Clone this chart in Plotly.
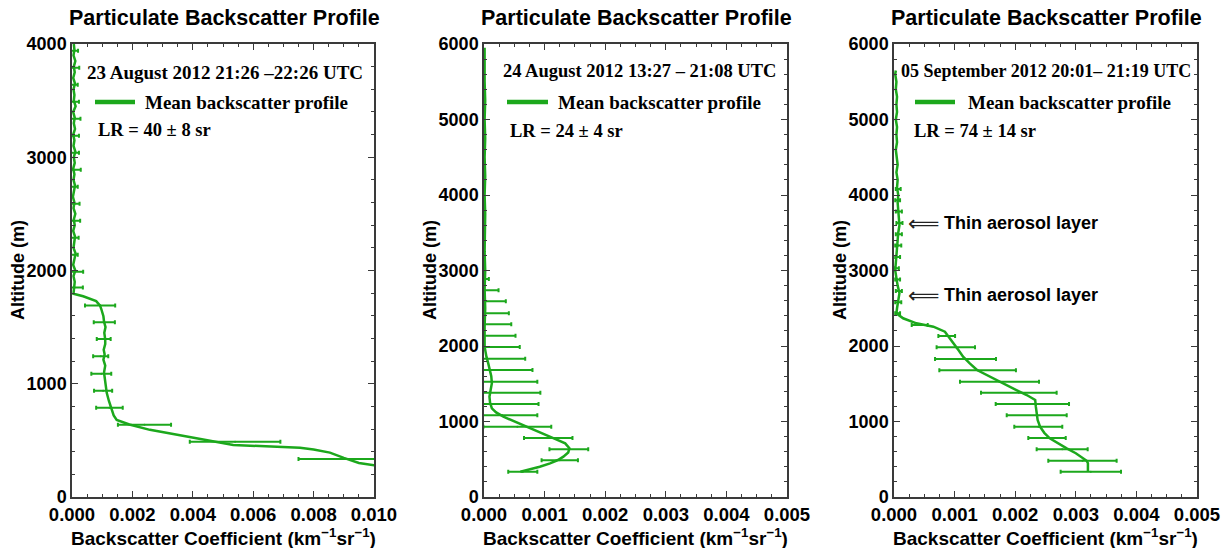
import plotly.graph_objects as go

# ---------------- data ----------------
# Panel 1: 23 August 2012
p1_alt = [270, 300, 345, 392, 420, 434, 460, 490, 522, 560, 593, 640, 681, 720, 770, 850, 920,
          1035, 1100, 1160, 1212, 1260, 1300, 1350, 1389, 1450, 1500, 1550, 1596, 1660, 1690, 1730, 1773, 1795,
          1850, 1900, 1950, 2000, 2050, 2100, 2150, 2200, 2250, 2300, 2350, 2400, 2450, 2500,
          2550, 2600, 2650, 2700, 2750, 2800, 2850, 2900, 2950, 3000, 3050, 3100, 3150, 3200,
          3250, 3300, 3350, 3400, 3450, 3500, 3550, 3600, 3650, 3700, 3750, 3800, 3850, 3900,
          3950, 4000]
p1_val = [0.0103, 0.0095, 0.0090, 0.00854, 0.0080, 0.00755, 0.00534, 0.0047, 0.0040, 0.0032, 0.00258,
          0.0019, 0.00148, 0.00138, 0.00131, 0.00122, 0.00115,
          0.0011, 0.00106, 0.0011, 0.00104, 0.00108, 0.00105, 0.0011, 0.0011, 0.00107, 0.00111, 0.00106,
          0.00104, 0.00097, 0.00093, 0.0008, 0.00037, 0.00005,
          0.00006, 0.00009, 0.00005, 0.00011, 0.00004, 0.00008, 0.00012, 0.00005, 0.00007, 0.00010,
          0.00004, 0.00009, 0.00006, 0.00011, 0.00005, 0.00008, 0.00003, 0.00007, 0.00010, 0.00005,
          0.00008, 0.00004, 0.00009, 0.00006, 0.00011, 0.00005, 0.00008, 0.00004, 0.00010, 0.00006,
          0.00009, 0.00004, 0.00012, 0.00006, 0.00008, 0.00005, 0.00010, 0.00004, 0.00009, 0.00006,
          0.00011, 0.00005, 0.00008, 0.00006]
p1_bar_alt = [336, 487, 637, 788, 938, 1088, 1242, 1395, 1543, 1690, 1850, 1990, 2140, 2290, 2440,
              2590, 2740, 2890, 3040, 3190, 3340, 3490, 3640, 3790, 3940]
p1_bar_val = [0.0090, 0.0054, 0.0024, 0.00124, 0.00103, 0.00097, 0.00095, 0.00105, 0.00107, 0.00093,
              0.00008, 0.00009, 0.00007, 0.00008, 0.00009, 0.00008, 0.00007, 0.00009, 0.00008, 0.00007,
              0.00008, 0.00009, 0.00007, 0.00008, 0.00007]
p1_bar_err = [0.0015, 0.0015, 0.00088, 0.00044, 0.0003, 0.00033, 0.00025, 0.00023, 0.00035, 0.0005,
              0.00028, 0.00028, 0.00012, 0.00014, 0.00018, 0.00017, 0.00012, 0.0002, 0.00015, 0.00016,
              0.0002, 0.00014, 0.00012, 0.00016, 0.00013]

# Panel 2: 24 August 2012
p2_alt = [335, 400, 446, 490, 534, 590, 645, 711, 760, 799, 860, 931, 1000, 1064, 1120, 1175, 1250,
          1329, 1420, 1506, 1600, 1682, 1770, 1859, 1930, 1992, 2250, 2500, 2750, 3000, 3250, 3500,
          3750, 4000, 4250, 4500, 4750, 5000, 5250, 5500, 5750, 5950]
p2_val = [0.0006, 0.00092, 0.00109, 0.00122, 0.00131, 0.00139, 0.00141, 0.00134, 0.0012, 0.00109,
          0.0009, 0.0007, 0.0005, 0.00032, 0.0002, 0.00013, 0.0001, 0.00009, 0.00011, 0.00013, 0.00012,
          0.0001, 0.00007, 0.00004, 0.00002, 0.00001, 0.00001, 0.00002, 0.00001, 0.00002, 0.00001,
          0.00002, 0.00002, 0.00001, 0.00002, 0.00001, 0.00002, 0.00001, 0.00002, 0.00001, 0.00001,
          0.00001]
p2_bar_alt = [335, 486, 632, 781, 931, 1082, 1232, 1381, 1527, 1682, 1832, 1987, 2137, 2287, 2433,
              2592, 2738, 2887]
p2_bar_val = [0.00064, 0.00125, 0.0014, 0.00106, 0.00055, 0.0003, 0.0001, 0.0001, 0.00013, 0.0001,
              0.00005, 0.0, 0.0, 0.0, 0.0, 0.0, 0.0, 0.0]
p2_bar_err = [0.00024, 0.0003, 0.00032, 0.0004, 0.00056, 0.00058, 0.0008, 0.00083, 0.00075, 0.0007,
              0.00063, 0.00059, 0.00052, 0.00045, 0.00041, 0.00036, 0.00024, 0.00008]

# Panel 3: 05 September 2012
p3_alt = [335, 446, 480, 512, 580, 645, 710, 777, 850, 931, 1020, 1108, 1200, 1285, 1351, 1417, 1480,
          1550, 1620, 1682, 1770, 1859, 1950, 2036, 2110, 2190, 2256, 2300, 2367, 2433, 2500, 2600,
          2700, 2800, 2900, 3000, 3100, 3200, 3300, 3400, 3500, 3600, 3700, 3800, 3900, 4000, 4100,
          4200, 4300, 4400, 4500, 4600, 4700, 4800, 4900, 5000, 5100, 5200, 5300, 5400, 5500, 5600,
          5650]
p3_val = [0.0032, 0.0032, 0.00318, 0.00312, 0.003, 0.00285, 0.00272, 0.00257, 0.00248, 0.00241,
          0.00237, 0.00235, 0.00234, 0.00233, 0.00219, 0.00202, 0.00186, 0.00169, 0.00152, 0.00137,
          0.00125, 0.00114, 0.00106, 0.00098, 0.0009, 0.00084, 0.00065, 0.00037, 0.00015, 0.00004,
          0.00005, 0.00007, 0.00009, 0.00006, 0.00004, 0.00002, 0.00003, 0.00004, 0.00004, 0.00006,
          0.00007, 0.00009, 0.00008, 0.00007, 0.00006, 0.00007, 0.00005, 0.00006, 0.00004, 0.00006,
          0.00005, 0.00003, 0.00005, 0.00004, 0.00005, 0.00003, 0.00005, 0.00004, 0.00005, 0.00003,
          0.00004, 0.00002, 0.00003]
p3_bar_alt = [335, 481, 632, 781, 931, 1082, 1232, 1381, 1527, 1678, 1828, 1983, 2132, 2278, 2433,
              2580, 2730, 2880, 3030, 3180, 3330, 3480, 3630, 3780, 3930, 4080]
p3_bar_val = [0.003248, 0.00311, 0.002775, 0.002525, 0.002381, 0.002355, 0.002283, 0.00206, 0.001741,
              0.00138, 0.00118, 0.00102, 0.00087, 0.000424, 0.00006, 0.00007, 0.00008, 0.00006,
              0.00004, 0.00006, 0.00007, 0.00008, 0.00009, 0.00008, 0.00006, 0.00007]
p3_bar_err = [0.000498, 0.000564, 0.000421, 0.000309, 0.000396, 0.000495, 0.000605, 0.000624,
              0.000652, 0.000632, 0.000503, 0.000317, 0.000138, 0.000132, 0.00004, 0.00005, 0.00005,
              0.00004, 0.00004, 0.00004, 0.00005, 0.00005, 0.00005, 0.00005, 0.00004, 0.00004]

titles = ["Particulate Backscatter Profile"] * 3
dates = ["23 August 2012 21:26 \u201322:26 UTC",
         "24 August 2012 13:27 \u2013 21:08 UTC",
         "05 September 2012 20:01\u2013 21:19 UTC"]
lr_texts = ["LR = 40 \u00b1 8 sr", "LR = 24 \u00b1 4 sr", "LR = 74 \u00b1 14 sr"]
legend_text = "Mean backscatter profile"
layer_text = "Thin aerosol layer"
layer_alts = [3629, 2675]
x_ranges = [[0, 0.010], [0, 0.005], [0, 0.005]]
x_dticks = [0.002, 0.001, 0.001]
x_minor = [0.0005, 0.00025, 0.00025]
y_ranges = [[0, 4000], [0, 6000], [0, 6000]]
xlabel = "Backscatter Coefficient (km<sup>\u22121</sup>sr<sup>\u22121</sup>)"
ylabel = "Altitude (m)"

# ---------------- figure ----------------
W, H = 1229, 548
GREEN = "rgb(28,168,28)"
FRAME = "#3a3a3a"


def px(x):
    return x / W


def py(y):
    return 1 - y / H


panels_px = [(72, 374), (484, 787), (894, 1197)]
y_dom = [py(497), py(44)]

fig = go.Figure()
series = [(p1_alt, p1_val, p1_bar_alt, p1_bar_val, p1_bar_err),
          (p2_alt, p2_val, p2_bar_alt, p2_bar_val, p2_bar_err),
          (p3_alt, p3_val, p3_bar_alt, p3_bar_val, p3_bar_err)]

sans_bold = dict(family="Liberation Sans, Arial", weight="bold", color="black")
serif_bold = dict(family="Liberation Serif, Times New Roman", weight="bold", color="black")

annotations = []
shapes = []
for i, (alt, val, balt, bval, berr) in enumerate(series):
    xa = "x" if i == 0 else f"x{i+1}"
    ya = "y" if i == 0 else f"y{i+1}"
    fig.add_trace(go.Scatter(x=val, y=alt, mode="lines", xaxis=xa, yaxis=ya,
                             line=dict(color=GREEN, width=2.5), hoverinfo="skip"))
    fig.add_trace(go.Scatter(x=bval, y=balt, mode="markers", xaxis=xa, yaxis=ya,
                             marker=dict(color=GREEN, size=2),
                             error_x=dict(type="data", array=berr, symmetric=True,
                                          color=GREEN, thickness=2, width=2),
                             hoverinfo="skip"))
    l, r = panels_px[i]
    axis_common = dict(showline=True, linecolor=FRAME, linewidth=1.5, mirror="allticks",
                       ticks="inside", ticklen=6, tickwidth=1, tickcolor=FRAME,
                       showgrid=False, zeroline=False, automargin=False)
    fig.layout[f"xaxis{'' if i == 0 else i+1}"] = dict(
        domain=[px(l), px(r)], range=x_ranges[i], dtick=x_dticks[i], tick0=0,
        tickformat=".3f", anchor=ya, tickfont=dict(size=18.5, **sans_bold),
        minor=dict(dtick=x_minor[i], ticks="inside", ticklen=3, tickcolor=FRAME),
        **axis_common)
    fig.layout[f"yaxis{'' if i == 0 else i+1}"] = dict(
        domain=y_dom, range=y_ranges[i], dtick=1000, tick0=0, tickformat="d", anchor=xa,
        tickfont=dict(size=18, **sans_bold),
        minor=dict(dtick=200, ticks="inside", ticklen=3, tickcolor=FRAME),
        **axis_common)

    cx = (l + r) / 2
    annotations.append(dict(text=titles[i], x=px(cx + 1), y=py(18), xref="paper", yref="paper",
                            showarrow=False, xanchor="center", yanchor="middle",
                            font=dict(size=21.5, **sans_bold)))
    annotations.append(dict(text=xlabel, x=px(cx), y=py(537), xref="paper", yref="paper",
                            showarrow=False, xanchor="center", yanchor="middle",
                            font=dict(size=19, **sans_bold)))
    annotations.append(dict(text=ylabel, x=px(l - 54), y=py(270), xref="paper", yref="paper",
                            showarrow=False, xanchor="center", yanchor="middle", textangle=-90,
                            font=dict(size=18, **sans_bold)))

# in-plot texts (panel-specific positions)
date_pos = [(225, 72, 19), (639, 71, 18.5), (1046, 71, 18)]
leg_line = [(95, 135, 102), (507, 548, 102), (915, 955, 102)]
leg_txt = [(143, 102), (556, 102), (966, 102)]
lr_pos = [(96, 130), (508, 131), (912, 131)]
for i in range(3):
    x, y, s = date_pos[i]
    annotations.append(dict(text=dates[i], x=px(x), y=py(y), xref="paper", yref="paper",
                            showarrow=False, xanchor="center", yanchor="middle",
                            font=dict(size=s, **serif_bold)))
    x0, x1, yl = leg_line[i]
    shapes.append(dict(type="line", x0=px(x0), x1=px(x1), y0=py(yl), y1=py(yl),
                       xref="paper", yref="paper", line=dict(color=GREEN, width=4.5)))
    tx, ty = leg_txt[i]
    annotations.append(dict(text=legend_text, x=px(tx), y=py(ty), xref="paper", yref="paper",
                            showarrow=False, xanchor="left", yanchor="middle",
                            font=dict(size=19, **serif_bold)))
    lx, ly = lr_pos[i]
    annotations.append(dict(text=lr_texts[i], x=px(lx), y=py(ly), xref="paper", yref="paper",
                            showarrow=False, xanchor="left", yanchor="middle",
                            font=dict(size=18.5, **serif_bold)))

for a in layer_alts:
    annotations.append(dict(text="\u27f8", x=px(924), y=a, xref="paper", yref="y3",
                            showarrow=False, xanchor="center", yanchor="middle",
                            font=dict(size=22, family="DejaVu Sans", color="#222")))
    annotations.append(dict(text=layer_text, x=px(942), y=a, xref="paper", yref="y3",
                            showarrow=False, xanchor="left", yanchor="middle",
                            font=dict(size=18, **sans_bold)))

fig.update_layout(width=W, height=H,
                  margin=dict(l=0, r=0, t=0, b=0, pad=0, autoexpand=False),
                  paper_bgcolor="white", plot_bgcolor="white", showlegend=False,
                  annotations=annotations, shapes=shapes)

fig.write_html("out.html")
